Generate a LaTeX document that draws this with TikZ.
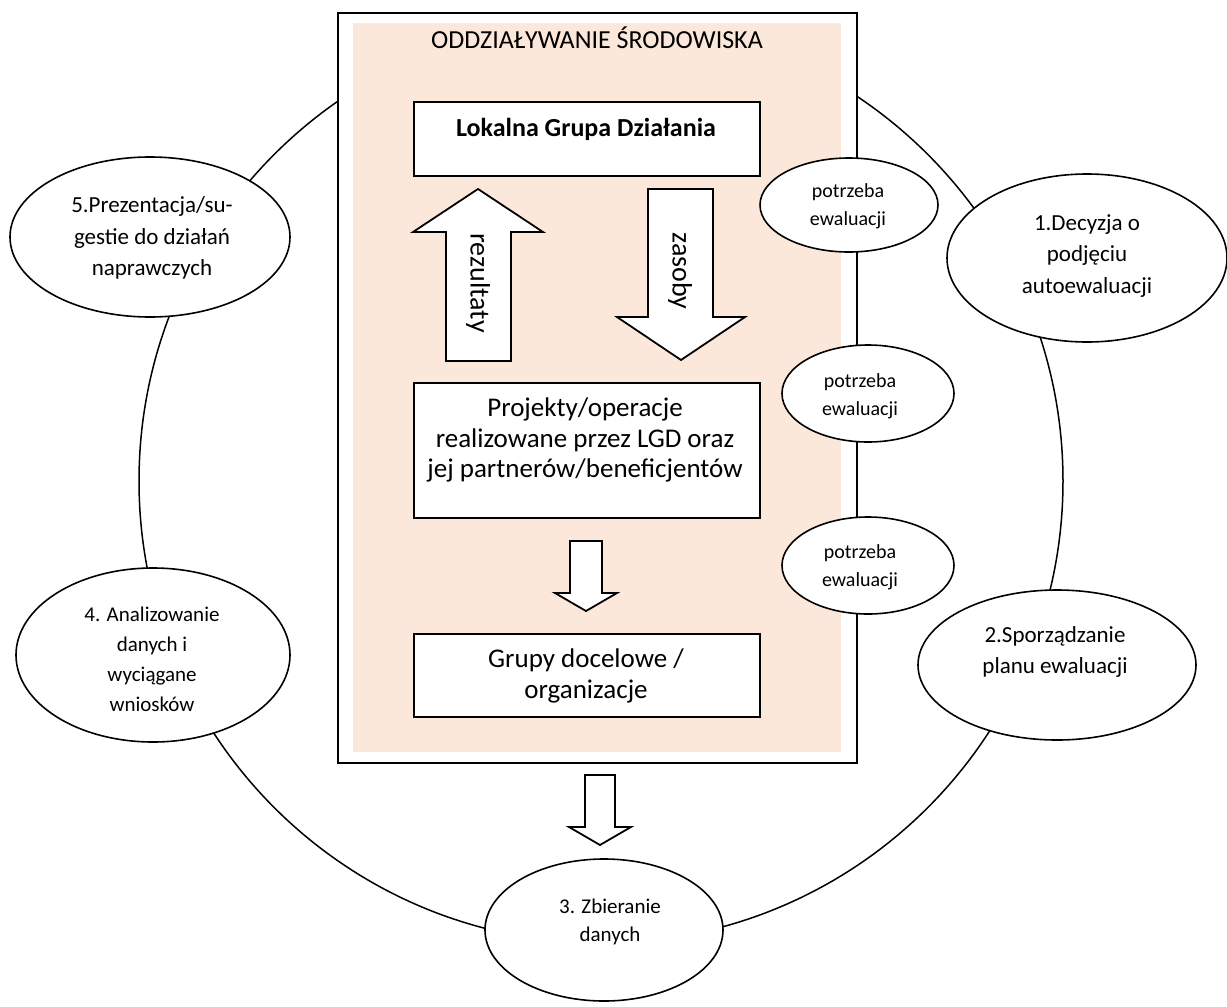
\documentclass[tikz,border=0pt]{standalone}
\usepackage{fontspec}
\setmainfont{Carlito}
\usetikzlibrary{shapes.geometric}
\definecolor{peach}{RGB}{252,232,218}
\begin{document}
\begin{tikzpicture}[x=0.5pt,y=-0.5pt,
  panel/.style={rectangle,draw=black,line width=1pt,fill=white,inner sep=0pt,anchor=north west},
  bubble/.style={ellipse,draw=black,line width=0.8pt,fill=white,inner sep=0pt},
  blockarrow/.style={draw=black,line width=0.9pt,fill=white,line join=miter},
  txt/.style={inner sep=0pt,align=center},
  boxfont/.style={font=\fontsize{13.5pt}{15.25pt}\selectfont},
  stagefont/.style={font=\fontsize{11.5pt}{15.75pt}\selectfont},
  smallfont/.style={font=\fontsize{10pt}{14pt}\selectfont}
]
\useasboundingbox (0,0) rectangle (1227,1007);
% evaluation cycle
\node[circle,draw=black,line width=0.75pt,minimum size=462pt,inner sep=0pt] (cycle) at (601,481) {};
% environment frame
\node[panel,minimum width=259.5pt,minimum height=375pt] (env) at (337,12) {};
\node[rectangle,fill=peach,inner sep=0pt,anchor=north west,minimum width=244pt,minimum height=364.5pt] (envfill) at (353,23) {};
\node[txt,font=\fontsize{13pt}{15.25pt}\selectfont,anchor=base] (title) at (597,48) {ODDZIAŁYWANIE ŚRODOWISKA};
% inner boxes
\node[panel,minimum width=173pt,minimum height=37pt] (lgd) at (413,101) {};
\node[txt,font=\fontsize{13pt}{15.25pt}\selectfont\bfseries,anchor=base] (lgdt) at (586,136) {Lokalna Grupa Działania};
\node[panel,minimum width=173pt,minimum height=67.5pt] (proj) at (413,382) {};
\node[txt,boxfont] (projt) at (585,440) {Projekty/operacje\\realizowane przez LGD oraz\\jej partnerów/beneficjentów};
\node[panel,minimum width=173pt,minimum height=41.5pt] (grupy) at (413,633) {};
\node[txt,boxfont] (grupyt) at (586,676) {Grupy docelowe /\\organizacje};
% block arrows
\draw[blockarrow] (478,189) -- (543,232) -- (511,232) -- (511,361) -- (446,361) -- (446,232) -- (413,232) -- cycle;
\node[txt,font=\fontsize{14pt}{16pt}\selectfont,rotate=-90] (rez) at (478,283) {rezultaty};
\draw[blockarrow] (648,189) -- (713,189) -- (713,317) -- (745,317) -- (681,360) -- (617,317) -- (648,317) -- cycle;
\node[txt,font=\fontsize{14pt}{16pt}\selectfont,rotate=-90] (zas) at (680,271) {zasoby};
\draw[blockarrow] (570,541) -- (602,541) -- (602,593) -- (617,593) -- (586,611) -- (555,593) -- (570,593) -- cycle;
\draw[blockarrow] (585,775) -- (615,775) -- (615,827) -- (631,827) -- (600,845) -- (569,827) -- (585,827) -- cycle;
% evaluation-need bubbles
\node[bubble,minimum width=89pt,minimum height=47pt] (p1) at (849,205) {};
\node[txt,smallfont] (p1t) at (848,206) {potrzeba\\ewaluacji};
\node[bubble,minimum width=86pt,minimum height=48.5pt] (p2) at (868,393.5) {};
\node[txt,smallfont] (p2t) at (860,396) {potrzeba\\ewaluacji};
\node[bubble,minimum width=86pt,minimum height=48.5pt] (p3) at (868,565.5) {};
\node[txt,smallfont] (p3t) at (860,567) {potrzeba\\ewaluacji};
% stages
\node[bubble,minimum width=140pt,minimum height=84pt] (s1) at (1087,258) {};
\node[txt,stagefont] (s1t) at (1087,256) {1.Decyzja o\\podjęciu\\autoewaluacji};
\node[bubble,minimum width=139pt,minimum height=75pt] (s2) at (1057,665) {};
\node[txt,stagefont] (s2t) at (1055,652) {2.Sporządzanie\\planu ewaluacji};
\node[bubble,minimum width=119pt,minimum height=71pt] (s3) at (604,930) {};
\node[txt,font=\fontsize{10.5pt}{14pt}\selectfont] (s3t) at (610,922) {3. Zbieranie\\danych};
\node[bubble,minimum width=137pt,minimum height=87pt] (s4) at (153,655) {};
\node[txt,font=\fontsize{10.5pt}{15pt}\selectfont] (s4t) at (152,659) {4. Analizowanie\\danych i\\wyciągane\\wniosków};
\node[bubble,minimum width=140pt,minimum height=80pt] (s5) at (150,237) {};
\node[txt,stagefont] (s5t) at (152,238) {5.Prezentacja/su-\\gestie do działań\\naprawczych};
\end{tikzpicture}
\end{document}
